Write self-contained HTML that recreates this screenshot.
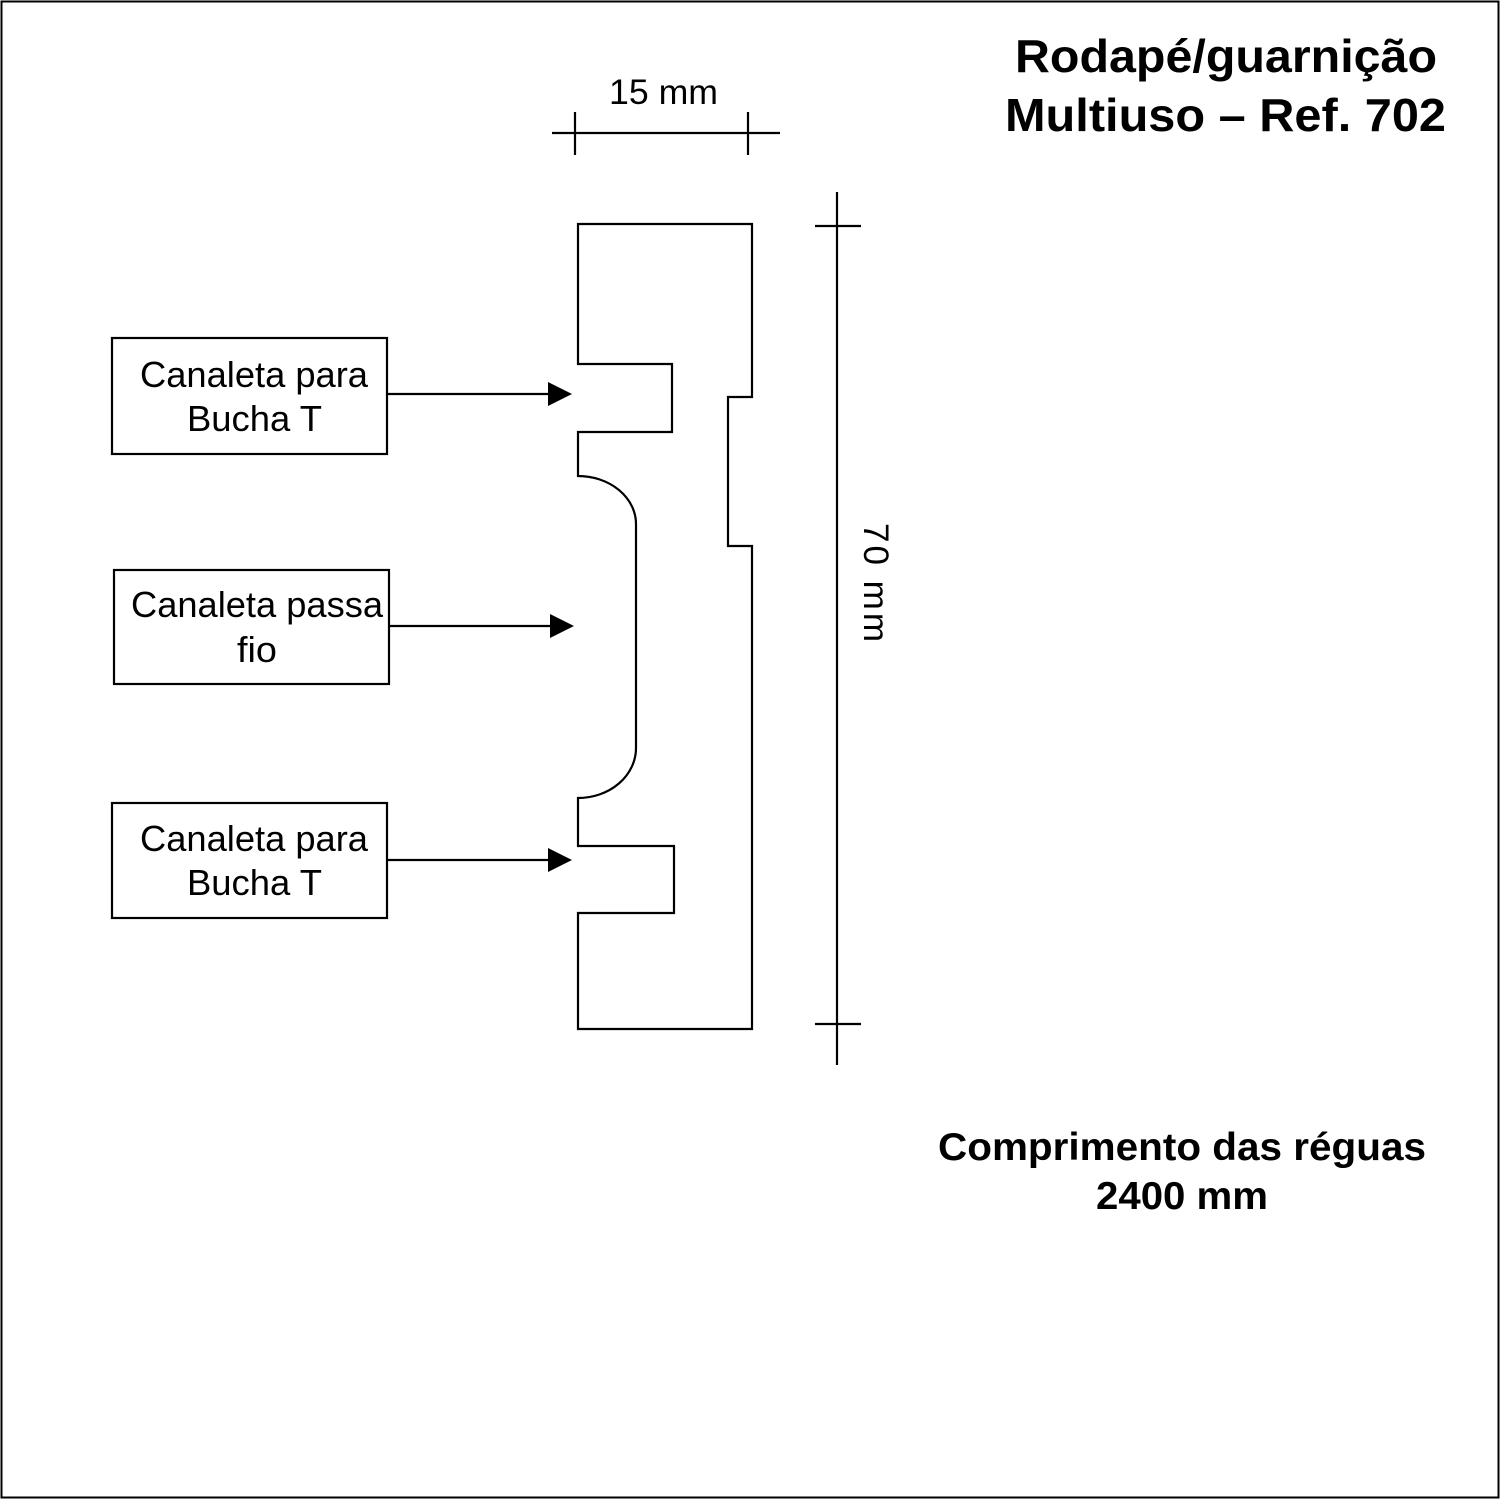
<!DOCTYPE html>
<html><head><meta charset="utf-8"><style>
html,body{margin:0;padding:0;background:#fff}
svg{display:block}
text{font-family:"Liberation Sans",Arial,sans-serif;fill:#000}
</style></head><body>
<svg width="1500" height="1500" viewBox="0 0 1500 1500" xmlns="http://www.w3.org/2000/svg">
<rect x="1.5" y="1.5" width="1497" height="1496" fill="#fff" stroke="#000" stroke-width="2"/>
<g fill="none" stroke="#000" stroke-width="2.2">
<path d="M578,224 H752 V397 H728 V546 H752 V1029 H578 V913 H674 V846 H578 V798 A58,50 0 0 0 636,748 V524 A58,48 0 0 0 578,476 V432 H672 V364 H578 Z"/>
<line x1="837" y1="192" x2="837" y2="1065"/>
<line x1="815" y1="226" x2="861" y2="226"/>
<line x1="815" y1="1024" x2="861" y2="1024"/>
<line x1="552" y1="133" x2="780" y2="133"/>
<line x1="575" y1="112" x2="575" y2="155"/>
<line x1="748" y1="112" x2="748" y2="155"/>
<rect x="112" y="338" width="275" height="116"/>
<rect x="114" y="570" width="275" height="114"/>
<rect x="112" y="803" width="275" height="115"/>
<line x1="387" y1="394" x2="552" y2="394"/>
<line x1="389" y1="626" x2="554" y2="626"/>
<line x1="387" y1="860" x2="552" y2="860"/>
</g>
<g fill="#000">
<polygon points="548,382 572,394 548,406"/>
<polygon points="550,614 574,626 550,638"/>
<polygon points="548,848 572,860 548,872"/>
</g>
<g font-size="36">
<text x="140" y="387" textLength="228" lengthAdjust="spacingAndGlyphs">Canaleta para</text>
<text x="187" y="431" textLength="135" lengthAdjust="spacingAndGlyphs">Bucha T</text>
<text x="131" y="617" textLength="252" lengthAdjust="spacingAndGlyphs">Canaleta passa</text>
<text x="237" y="662" textLength="40" lengthAdjust="spacingAndGlyphs">fio</text>
<text x="140" y="851" textLength="228" lengthAdjust="spacingAndGlyphs">Canaleta para</text>
<text x="187" y="895" textLength="135" lengthAdjust="spacingAndGlyphs">Bucha T</text>
</g>
<text x="609" y="104" font-size="35" textLength="109" lengthAdjust="spacingAndGlyphs">15 mm</text>
<text transform="translate(864,523) rotate(90)" font-size="35" textLength="119" lengthAdjust="spacing">70  mm</text>
<g font-weight="bold">
<text x="1015" y="72" font-size="46" textLength="422" lengthAdjust="spacingAndGlyphs">Rodapé/guarnição</text>
<text x="1005" y="131" font-size="46" textLength="441" lengthAdjust="spacingAndGlyphs">Multiuso – Ref. 702</text>
<text x="938" y="1160" font-size="39" textLength="488" lengthAdjust="spacingAndGlyphs">Comprimento das réguas</text>
<text x="1096" y="1209" font-size="39" textLength="172" lengthAdjust="spacingAndGlyphs">2400 mm</text>
</g>
</svg>
</body></html>
